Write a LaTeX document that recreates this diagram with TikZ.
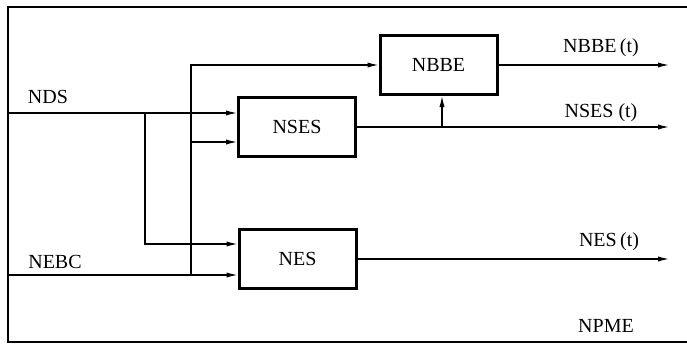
\documentclass[tikz,border=0pt]{standalone}
\usepackage{fontspec}
\setmainfont{Liberation Serif}
\usetikzlibrary{arrows.meta,calc}

\begin{document}
\begin{tikzpicture}[x=0.5pt,y=-0.5pt,>={Latex[length=5.5pt,width=2.6pt]}]

% --- Stijlen ---
\tikzset{
    blok/.style={
        draw,
        line width=1.5pt,
        minimum width=58.5pt,
        minimum height=29.5pt,
        inner sep=0pt,
        font=\fontsize{10}{12}\selectfont
    },
    tekst/.style={
        font=\fontsize{10}{12}\selectfont,
        inner sep=0pt
    },
    pijl/.style={
        ->,
        line width=0.6pt
    },
    kader/.style={
        line width=1.1pt
    }
}

\useasboundingbox (0,0) rectangle (687,344);

% --- Kader ---
\draw[kader] (687,7) -- (8,7) -- (8,342) -- (687,342);

% --- Blokken ---
\node[blok] (nses) at (297,127)   {NSES};
\node[blok] (nes)  at (297.5,259) {NES};
\node[blok] (nbbe) at (438.5,65)  {NBBE};

% --- Punten ---
\coordinate (nds)  at (8,113);
\coordinate (nebc) at (8,275);
\coordinate (tak1) at (145,113);
\coordinate (tak2) at (191,275);
\coordinate (tak3) at (442,127);
\coordinate (rand) at (669,0);
\coordinate (nses-in1) at ($(nses.west)+(0,-14)$);
\coordinate (nses-in2) at ($(nses.west)+(0,15)$);
\coordinate (nes-in1)  at ($(nes.west)+(0,-15)$);
\coordinate (nes-in2)  at ($(nes.west)+(0,16)$);

% --- Teksten ---
\node[tekst] (l-nds)   at (48,97)   {NDS};
\node[tekst] (l-nebc)  at (55,262)  {NEBC};
\node[tekst] (l-nbbe)  at (601,48)  {NBBE\,(t)};
\node[tekst] (l-nses)  at (601,113) {NSES (t)};
\node[tekst] (l-nes)   at (609,242) {NES\,(t)};
\node[tekst] (l-npme)  at (606,326) {NPME};

% --- Pijlen ---
\draw[pijl] (nds) -- (nses-in1);
\draw[pijl] (tak1) |- (nes-in1);
\draw[pijl] (nebc) -- (nes-in2);
\draw[pijl] (tak2) |- (nbbe.west);
\draw[pijl] (tak2 |- nses-in2) -- (nses-in2);
\draw[pijl] (nbbe.east) -- (nbbe.east -| rand);
\draw[pijl] (nses.east) -- (nses.east -| rand);
\draw[pijl] (tak3) -- (tak3 |- nbbe.south);
\draw[pijl] (nes.east) -- (nes.east -| rand);
\end{tikzpicture}
\end{document}
